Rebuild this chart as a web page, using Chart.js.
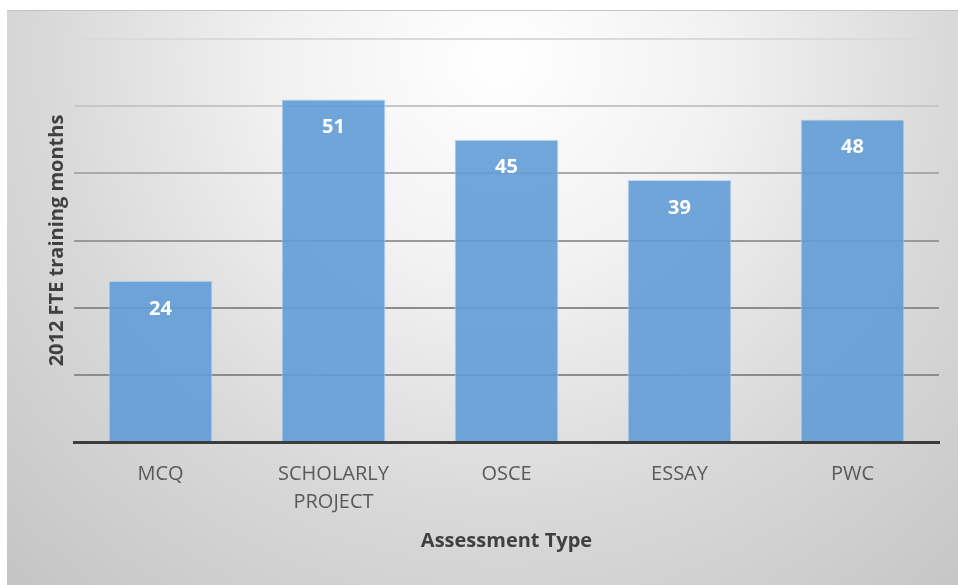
<!DOCTYPE html>
<html>
<head>
<meta charset="utf-8">
<script src="https://cdn.jsdelivr.net/npm/chart.js@4/dist/chart.umd.min.js"></script>
<style>
  html, body { margin: 0; padding: 0; background: #ffffff; }
  #wrap { width: 958px; height: 585px; }
</style>
</head>
<body>
<div id="wrap"><canvas id="c" width="958" height="585"></canvas></div>
<script>
const categories = [["MCQ"], ["SCHOLARLY", "PROJECT"], ["OSCE"], ["ESSAY"], ["PWC"]];
const values = [24, 51, 45, 39, 48];
const yMax = 60;
const yStep = 10;
const yTitle = "2012 FTE training months";
const xTitle = "Assessment Type";

const FONT = "'Open Sans', 'Noto Sans', sans-serif";

const bgPlugin = {
  id: 'bg',
  beforeDraw(chart) {
    const ctx = chart.ctx;
    ctx.save();
    ctx.fillStyle = '#ffffff';
    ctx.fillRect(0, 0, chart.width, chart.height);
    const g = ctx.createRadialGradient(500, 60, 0, 500, 60, 750);
    g.addColorStop(0, '#ffffff');
    g.addColorStop(0.3, '#f1f1f1');
    g.addColorStop(0.6, '#d9d9d9');
    g.addColorStop(1, '#c2c2c2');
    ctx.fillStyle = g;
    ctx.fillRect(7, 10, chart.width - 7, chart.height - 10);
    ctx.fillStyle = '#c4c4c4';
    ctx.fillRect(7, 10, chart.width - 7, 1);
    ctx.restore();
  }
};

const labelPlugin = {
  id: 'valueLabels',
  afterDatasetsDraw(chart) {
    const ctx = chart.ctx;
    const meta = chart.getDatasetMeta(0);
    ctx.save();
    ctx.fillStyle = '#ffffff';
    ctx.font = "bold 20px " + FONT;
    ctx.textAlign = 'center';
    ctx.textBaseline = 'middle';
    meta.data.forEach((el, i) => {
      ctx.fillText(String(chart.data.datasets[0].data[i]), el.x, el.y + 28);
    });
    ctx.restore();
  }
};

function gridColor(ctx) {
  const v = ctx.tick ? ctx.tick.value : 0;
  if (v === 0) return 'rgba(0,0,0,0)';
  if (v >= 60) return '#dadada';
  if (v >= 50) return '#c6c6c6';
  if (v >= 40) return '#aaaaaa';
  if (v >= 30) return '#999999';
  return '#8c8c8c';
}

new Chart(document.getElementById('c'), {
  type: 'bar',
  data: {
    labels: categories,
    datasets: [{
      data: values,
      backgroundColor: 'rgba(96,156,213,0.9)',
      borderColor: 'rgba(190,215,242,0.9)',
      borderWidth: 1,
      barPercentage: 0.6,
      categoryPercentage: 1.0
    }]
  },
  options: {
    responsive: false,
    animation: false,
    devicePixelRatio: 1,
    layout: { padding: { left: 0, right: 19, top: 39, bottom: 0 } },
    plugins: {
      legend: { display: false },
      tooltip: { enabled: false },
      title: { display: false }
    },
    scales: {
      x: {
        grid: { display: false, drawTicks: false },
        border: { display: true, color: '#3c3c3c', width: 3 },
        ticks: {
          color: '#595959',
          font: { family: FONT, size: 20, lineHeight: 1.4 },
          padding: 18,
          maxRotation: 0,
          autoSkip: false
        },
        title: {
          display: true,
          text: xTitle,
          color: '#404040',
          font: { family: FONT, size: 20, weight: 'bold' },
          padding: { top: 0, bottom: 32 }
        },
        afterFit(scale) { scale.height = 143; }
      },
      y: {
        min: 0,
        max: yMax,
        ticks: { display: false, stepSize: yStep },
        grid: { color: gridColor, lineWidth: 2, drawTicks: false },
        border: { display: false },
        title: {
          display: true,
          text: yTitle,
          color: '#404040',
          font: { family: FONT, size: 20, weight: 'bold' },
          padding: { top: 45, bottom: 0 }
        },
        afterFit(scale) { scale.width = 74; }
      }
    }
  },
  plugins: [bgPlugin, labelPlugin]
});
</script>
</body>
</html>
